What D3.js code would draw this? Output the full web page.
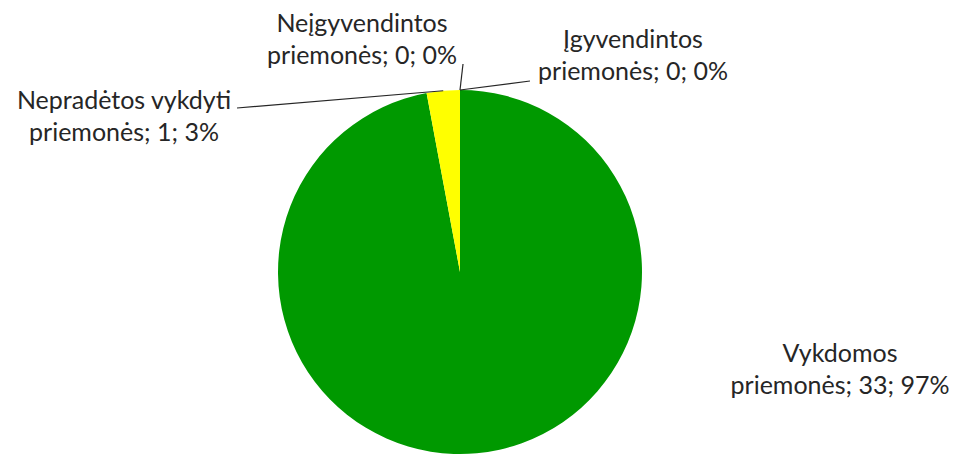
<!DOCTYPE html>
<html><head><meta charset="utf-8">
<script src="https://cdn.jsdelivr.net/npm/d3@7"></script>
<style>body{margin:0;background:#fff}text{font-family:Lato,"Open Sans",sans-serif;fill:#262626}</style>
</head><body>
<svg id="c" width="955" height="454"></svg>
<script>
const categories = ["Įgyvendintos priemonės", "Vykdomos priemonės", "Nepradėtos vykdyti priemonės", "Neįgyvendintos priemonės"];
const values = [0, 33, 1, 0];
const percents = ["0%", "97%", "3%", "0%"];
const labelLines = [
  ["Įgyvendintos", "priemonės; 0; 0%"],
  ["Vykdomos", "priemonės; 33; 97%"],
  ["Nepradėtos vykdyti", "priemonės; 1; 3%"],
  ["Neįgyvendintos", "priemonės; 0; 0%"]
];
const colors = ["#4f81bd", "#009900", "#ffff00", "#c0504d"];

// layout
const cx = 460, cy = 272, r = 182;
const labelPos = [ {x:633, y:48}, {x:840, y:362}, {x:124, y:109}, {x:362, y:32} ];
const leaderEnd = [ {x:530, y:81}, null, {x:237, y:108}, {x:463, y:64} ];
const lineH = 31.5;

const svg = d3.select("#c");
const g = svg.append("g").attr("transform", `translate(${cx},${cy})`);
const pie = d3.pie().sort(null).value(d => d)(values);
const arc = d3.arc().innerRadius(0).outerRadius(r);
g.selectAll("path").data(pie).join("path")
  .attr("d", arc).attr("fill", (d,i) => colors[i]);

// leader lines
pie.forEach((d,i) => {
  if (!leaderEnd[i]) return;
  const a = (d.startAngle + d.endAngle)/2;
  const px = cx + r*Math.sin(a), py = cy - r*Math.cos(a);
  svg.append("line").attr("x1", px).attr("y1", py)
    .attr("x2", leaderEnd[i].x).attr("y2", leaderEnd[i].y)
    .attr("stroke", "#262626").attr("stroke-width", 1.2);
});

labelLines.forEach((lines, i) => {
  const t = svg.append("text").attr("text-anchor", "middle")
    .attr("font-size", 25);
  lines.forEach((l, j) => t.append("tspan").attr("x", labelPos[i].x)
    .attr("y", labelPos[i].y + j*lineH).text(l));
});
</script>
</body></html>
